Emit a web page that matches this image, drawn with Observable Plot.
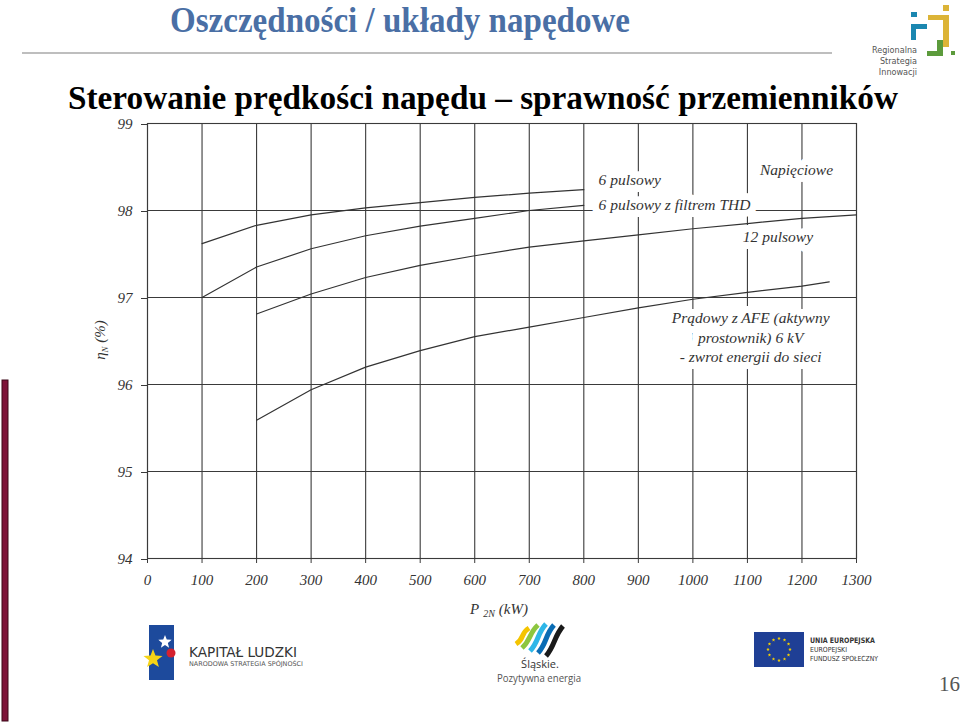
<!DOCTYPE html>
<html><head><meta charset="utf-8">
<script src="https://cdn.jsdelivr.net/npm/d3@7"></script>
<script src="https://cdn.jsdelivr.net/npm/@observablehq/plot@0.6"></script>
<style>
html,body{margin:0;padding:0;background:#fff;}
#page{position:relative;width:960px;height:724px;overflow:hidden;background:#fff;}
#deco{position:absolute;left:0;top:0;z-index:2;pointer-events:none;overflow:visible;}
#chart{position:absolute;left:0;top:110px;z-index:1;}
</style></head><body>
<div id="page">
<svg id="deco" width="960" height="724" xmlns="http://www.w3.org/2000/svg">
  <rect x="2" y="380" width="6" height="341" fill="#7d1238" stroke="#3d0818" stroke-width="1"/>
  <text x="170" y="32" textLength="460" lengthAdjust="spacingAndGlyphs" font-family="'Liberation Serif','Times New Roman',serif" font-weight="bold" font-size="36" fill="#4a6fa5">Oszczędności / układy napędowe</text>
  <line x1="22" x2="832" y1="53" y2="53" stroke="#a8a8a8" stroke-width="1.5"/>
  <text x="68" y="109" textLength="830" lengthAdjust="spacingAndGlyphs" font-family="'Liberation Serif','Times New Roman',serif" font-weight="bold" font-size="34.5" fill="#000">Sterowanie prędkości napędu – sprawność przemienników</text>
  <!-- RSI logo -->
  <g fill="#dcb437"><rect x="943" y="5" width="6" height="6"/><rect x="928" y="15" width="21" height="5"/><rect x="943" y="15" width="6" height="32"/></g>
  <g fill="#1b87b0"><rect x="911" y="12" width="6" height="5"/><rect x="911" y="24" width="16" height="5"/><rect x="911" y="24" width="5" height="16"/></g>
  <g fill="#5c9b3c"><rect x="937" y="40" width="6" height="16"/><rect x="927" y="51" width="16" height="5"/><rect x="951" y="51" width="4" height="4"/></g>
  <g font-family="'DejaVu Sans Condensed','Liberation Sans Narrow',sans-serif" font-size="9" fill="#555" text-anchor="end">
    <text x="917" y="53">Regionalna</text>
    <text x="917" y="64">Strategia</text>
    <text x="917" y="74.5">Innowacji</text>
  </g>
  <!-- axis titles -->
  <text transform="translate(105,340) rotate(-90)" text-anchor="middle" font-family="'Liberation Serif','Times New Roman',serif" font-style="italic" font-size="15" fill="#333">η<tspan font-size="9" dy="3">N</tspan><tspan dy="-3"> (%)</tspan></text>
  <text x="470" y="614" font-family="'Liberation Serif','Times New Roman',serif" font-style="italic" font-size="15" fill="#333">P<tspan font-size="10" dy="3" dx="4">2N</tspan><tspan dy="-3" dx="4">(kW)</tspan></text>
  <!-- Kapitał Ludzki -->
  <rect x="149" y="625" width="25" height="55" fill="#1d4a9c"/>
  <g id="klstars"></g>
  <text x="189" y="657" textLength="108" lengthAdjust="spacingAndGlyphs" font-family="'DejaVu Sans Condensed','Liberation Sans Narrow',sans-serif" font-size="14" fill="#333">KAPITAŁ LUDZKI</text>
  <text x="189" y="666" textLength="114" lengthAdjust="spacingAndGlyphs" font-family="'DejaVu Sans Condensed','Liberation Sans Narrow',sans-serif" font-size="6.5" fill="#555">NARODOWA STRATEGIA SPÓJNOŚCI</text>
  <!-- Śląskie -->
  <g id="stripes" fill="none" stroke-width="5"></g>
  <text x="540" y="668" text-anchor="middle" font-family="'Open Sans',sans-serif" font-size="11" fill="#333">Śląskie.</text>
  <text x="539" y="682" text-anchor="middle" textLength="84" lengthAdjust="spacingAndGlyphs" font-family="'Open Sans',sans-serif" font-size="11" fill="#555">Pozytywna energia</text>
  <!-- EU -->
  <rect x="754" y="632" width="50" height="35" fill="#1f3f95"/>
  <g id="eustars" fill="#f5d000"></g>
  <g font-family="'Liberation Sans Narrow','DejaVu Sans Condensed',sans-serif" fill="#333">
    <text x="810" y="643" font-size="7.5" font-weight="bold" textLength="65" lengthAdjust="spacingAndGlyphs">UNIA EUROPEJSKA</text>
    <text x="810" y="652" font-size="7" textLength="37" lengthAdjust="spacingAndGlyphs">EUROPEJSKI</text>
    <text x="810" y="661" font-size="7" textLength="68" lengthAdjust="spacingAndGlyphs">FUNDUSZ SPOŁECZNY</text>
  </g>
  <text x="939" y="691" font-family="'Liberation Serif','Times New Roman',serif" font-size="21" fill="#555">16</text>
</svg>
<div id="chart"></div>
</div>
<script>
// ---- data ----
const xTicks = [0,100,200,300,400,500,600,700,800,900,1000,1100,1200,1300];
const yTicks = [94,95,96,97,98,99];

const power6p    = [100,200,300,400,500,600,700,800];
const eff6p      = [97.62,97.83,97.95,98.03,98.09,98.15,98.20,98.24];

const power6pTHD = [100,200,300,400,500,600,700,800];
const eff6pTHD   = [97.00,97.35,97.56,97.71,97.82,97.91,98.00,98.06];

const power12p   = [200,300,400,500,600,700,800,900,1000,1100,1200,1300];
const eff12p     = [96.81,97.04,97.23,97.37,97.48,97.58,97.65,97.72,97.79,97.85,97.91,97.95];

const powerAFE   = [200,300,400,500,600,700,800,900,1000,1100,1200,1250];
const effAFE     = [95.59,95.94,96.20,96.39,96.55,96.66,96.77,96.88,96.98,97.06,97.13,97.18];

const seriesNames = ["6 pulsowy","6 pulsowy z filtrem THD","12 pulsowy","Prądowy z AFE"];

const startLabelText = ["6 pulsowy","6 pulsowy z filtrem THD"];
const startLabelP    = [827, 827];
const startLabelEff  = [98.345, 98.06];

const midLabelText = ["Napięciowe","12 pulsowy","Prądowy z AFE (aktywny","prostownik) 6 kV","- zwrot energii do sieci"];
const midLabelP    = [1190, 1156, 1106, 1106, 1106];
const midLabelEff  = [98.46, 97.70, 96.76, 96.53, 96.32];

// ---- build tables ----
const seriesData = [[power6p,eff6p],[power6pTHD,eff6pTHD],[power12p,eff12p],[powerAFE,effAFE]];
const rows = seriesData.flatMap(([p,e],i) => p.map((v,j) => ({series: seriesNames[i], p: v, eff: e[j]})));
const startLabels = startLabelText.map((t,i) => ({t, p: startLabelP[i], eff: startLabelEff[i]}));
const midLabels = midLabelText.map((t,i) => ({t, p: midLabelP[i], eff: midLabelEff[i]}));

const ink = "#3a3a3a";
const fmt = d => String(d);
const chart = Plot.plot({
  width: 960, height: 520,
  marginLeft: 147, marginRight: 104, marginTop: 13, marginBottom: 72,
  style: {fontFamily: "'Liberation Serif','Times New Roman',serif", fontStyle: "italic", fontSize: "15px", color: "#333", background: "transparent", overflow: "visible"},
  x: {domain: [0, 1300]},
  y: {domain: [94, 99]},
  marks: [
    Plot.gridX(xTicks, {stroke: ink, strokeOpacity: 1, strokeWidth: 1.1}),
    Plot.gridY(yTicks, {stroke: ink, strokeOpacity: 1, strokeWidth: 1.1}),
    Plot.frame({stroke: ink, strokeWidth: 1.1}),
    Plot.axisX(xTicks, {tickSize: 5, tickPadding: 11, label: null, stroke: ink, tickFormat: fmt}),
    Plot.axisY(yTicks, {tickSize: 6, tickPadding: 9, label: null, stroke: ink, tickFormat: fmt, dy: 1}),
    Plot.line(rows, {x: "p", y: "eff", z: "series", stroke: "#333", strokeWidth: 1.2}),
    Plot.text(startLabels, {x: "p", y: "eff", text: "t", textAnchor: "start", fill: "#333", stroke: "white", strokeWidth: 14, paintOrder: "stroke", fontSize: 15.5}),
    Plot.text(midLabels, {x: "p", y: "eff", text: "t", textAnchor: "middle", fill: "#333", stroke: "white", strokeWidth: 14, paintOrder: "stroke", fontSize: 15.5})
  ]
});
document.getElementById("chart").appendChild(chart);

// ---- logo decorations ----
function starPath(cx, cy, R, r) {
  let d = "";
  for (let k = 0; k < 10; k++) {
    const a = -Math.PI/2 + k*Math.PI/5;
    const rr = k % 2 ? r : R;
    d += (k ? "L" : "M") + (cx + rr*Math.cos(a)).toFixed(2) + "," + (cy + rr*Math.sin(a)).toFixed(2);
  }
  return d + "Z";
}
const kl = d3.select("#klstars");
kl.append("path").attr("d", starPath(165, 642, 7, 3)).attr("fill", "#fff");
kl.append("circle").attr("cx", 171).attr("cy", 653).attr("r", 4.5).attr("fill", "#d4212f");
kl.append("path").attr("d", starPath(153, 659, 10, 4.2)).attr("fill", "#f6d416");

const eu = d3.select("#eustars");
for (let k = 0; k < 12; k++) {
  const a = k*Math.PI/6;
  eu.append("path").attr("d", starPath(779 + 11*Math.cos(a), 649.5 + 11*Math.sin(a), 1.8, 0.8));
}

const stripeColors = ["#f4c400","#8dc63f","#2eb6e8","#0a6cb4","#1a1a1a"];
const stripeGeom = [[529,628,516,644],[538,625,522,648],[546,624,530,651],[554,625,538,653],[563,626,546,656]];
const st = d3.select("#stripes");
stripeGeom.forEach(([xt,yt,xb,yb],i) => {
  const h = yb - yt;
  st.append("path")
    .attr("d", `M${xt},${yt} C${xt-9},${yt+h*0.35} ${xb+9},${yt+h*0.65} ${xb},${yb}`)
    .attr("stroke", stripeColors[i]);
});
</script>
</body></html>
